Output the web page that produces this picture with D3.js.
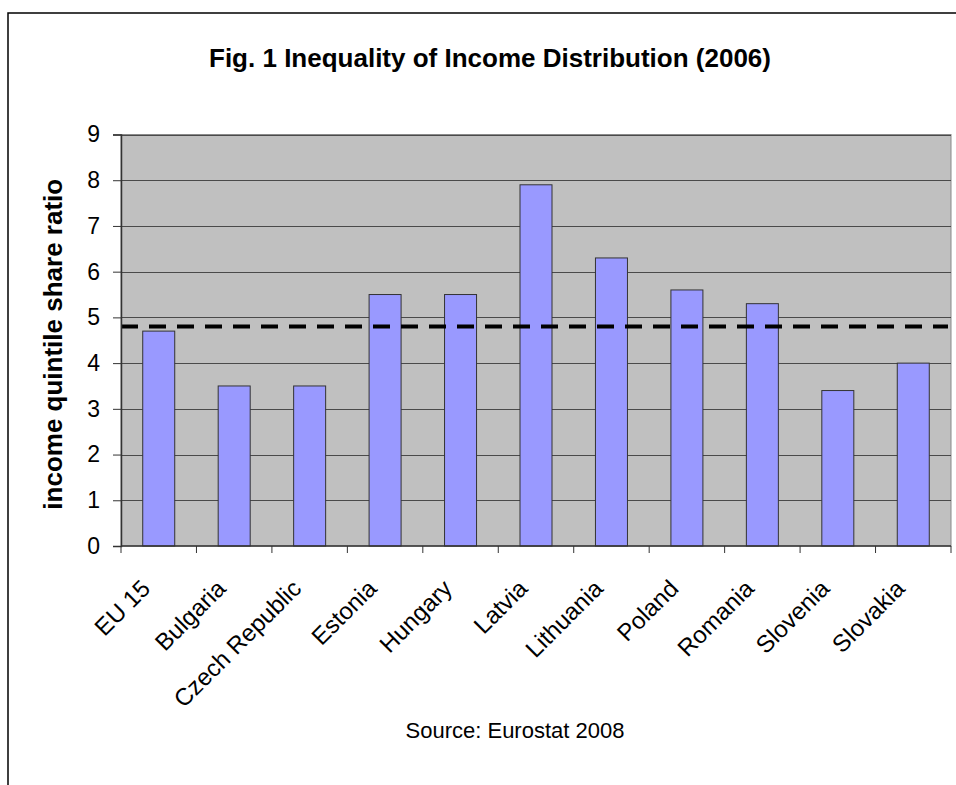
<!DOCTYPE html>
<html>
<head>
<meta charset="utf-8">
<script src="https://cdn.jsdelivr.net/npm/d3@7"></script>
<style>
  body { margin: 0; background: #fff; }
  svg { display: block; font-family: Arial, "Liberation Sans", sans-serif; }
</style>
</head>
<body>
<svg width="956" height="785"></svg>
<script>
const countries = ["EU 15", "Bulgaria", "Czech Republic", "Estonia", "Hungary", "Latvia",
  "Lithuania", "Poland", "Romania", "Slovenia", "Slovakia"];
const ratios = [4.7, 3.5, 3.5, 5.5, 5.5, 7.9, 6.3, 5.6, 5.3, 3.4, 4.0];
const referenceLevel = 4.8;
const yTicks = [0, 1, 2, 3, 4, 5, 6, 7, 8, 9];

const svg = d3.select("svg");
const plot = { left: 121, right: 951, top: 134.5, bottom: 546 };

// outer chart frame (runs off the picture on right and bottom)
svg.append("rect")
  .attr("x", 8).attr("y", 13)
  .attr("width", 1000).attr("height", 1000)
  .attr("fill", "none").attr("stroke", "#000").attr("stroke-width", 1.5);

const x = d3.scaleBand().domain(countries).range([plot.left, plot.right]).padding(0);
const y = d3.scaleLinear().domain([0, 9]).range([plot.bottom, plot.top]);
const barW = 32;

svg.append("rect")
  .attr("x", plot.left).attr("y", plot.top)
  .attr("width", plot.right - plot.left).attr("height", plot.bottom - plot.top)
  .attr("fill", "#c0c0c0").attr("stroke", "#8a8a8a");

// gridlines
svg.append("g")
  .selectAll("line")
  .data(yTicks.filter((d) => d > 0))
  .enter()
  .append("line")
  .attr("x1", plot.left).attr("x2", plot.right)
  .attr("y1", (d) => Math.round(y(d)) + 0.5).attr("y2", (d) => Math.round(y(d)) + 0.5)
  .attr("stroke", "#4a4a4a").attr("stroke-width", 1);

// bars
svg.append("g")
  .selectAll("rect")
  .data(countries)
  .enter()
  .append("rect")
  .attr("x", (d) => x(d) + x.bandwidth() / 2 - barW / 2)
  .attr("y", (d, i) => y(ratios[i]))
  .attr("width", barW)
  .attr("height", (d, i) => y(0) - y(ratios[i]))
  .attr("fill", "#9999ff")
  .attr("stroke", "#333").attr("stroke-width", 1);

// reference dashed line
svg.append("line")
  .attr("x1", plot.left).attr("x2", plot.right - 3)
  .attr("y1", y(referenceLevel)).attr("y2", y(referenceLevel))
  .attr("stroke", "#000").attr("stroke-width", 4)
  .attr("stroke-dasharray", "17,11");

// y axis
const yAxis = svg.append("g")
  .attr("transform", `translate(${plot.left},0)`)
  .call(d3.axisLeft(y).tickValues(yTicks).tickSize(8).tickPadding(13).tickFormat(d3.format("d")));
yAxis.select(".domain").attr("stroke", "#333").attr("stroke-width", 1.5);
yAxis.selectAll(".tick line").attr("stroke", "#333");
yAxis.selectAll("text").attr("font-size", 23).attr("fill", "#000")
  .attr("font-family", "Arial, 'Liberation Sans', sans-serif");

// x axis: ticks on category boundaries
const xAxis = svg.append("g").attr("transform", `translate(0,${plot.bottom})`);
xAxis.append("line")
  .attr("x1", plot.left).attr("x2", plot.right)
  .attr("stroke", "#333").attr("stroke-width", 1.5);
xAxis.selectAll("line.tk")
  .data(countries.concat(["end"]))
  .enter()
  .append("line")
  .attr("class", "tk")
  .attr("x1", (d, i) => plot.left + i * x.step())
  .attr("x2", (d, i) => plot.left + i * x.step())
  .attr("y1", 0).attr("y2", 7)
  .attr("stroke", "#333");
xAxis.selectAll("text")
  .data(countries)
  .enter()
  .append("text")
  .attr("transform", (d) => `translate(${x(d) + x.bandwidth() / 2 - 7},44) rotate(-45)`)
  .attr("text-anchor", "end")
  .attr("font-size", 24)
  .text((d) => d);

svg.append("text")
  .attr("transform", `translate(62,${(plot.top + plot.bottom) / 2 + 4}) rotate(-90)`)
  .attr("text-anchor", "middle")
  .attr("font-size", 26).attr("font-weight", "bold")
  .text("income quintile share ratio");

svg.append("text")
  .attr("x", 490).attr("y", 67)
  .attr("text-anchor", "middle")
  .attr("font-size", 26).attr("font-weight", "bold")
  .text("Fig. 1 Inequality of Income Distribution (2006)");

svg.append("text")
  .attr("x", 515).attr("y", 738)
  .attr("text-anchor", "middle")
  .attr("font-size", 22)
  .text("Source: Eurostat 2008");
</script>
</body>
</html>
